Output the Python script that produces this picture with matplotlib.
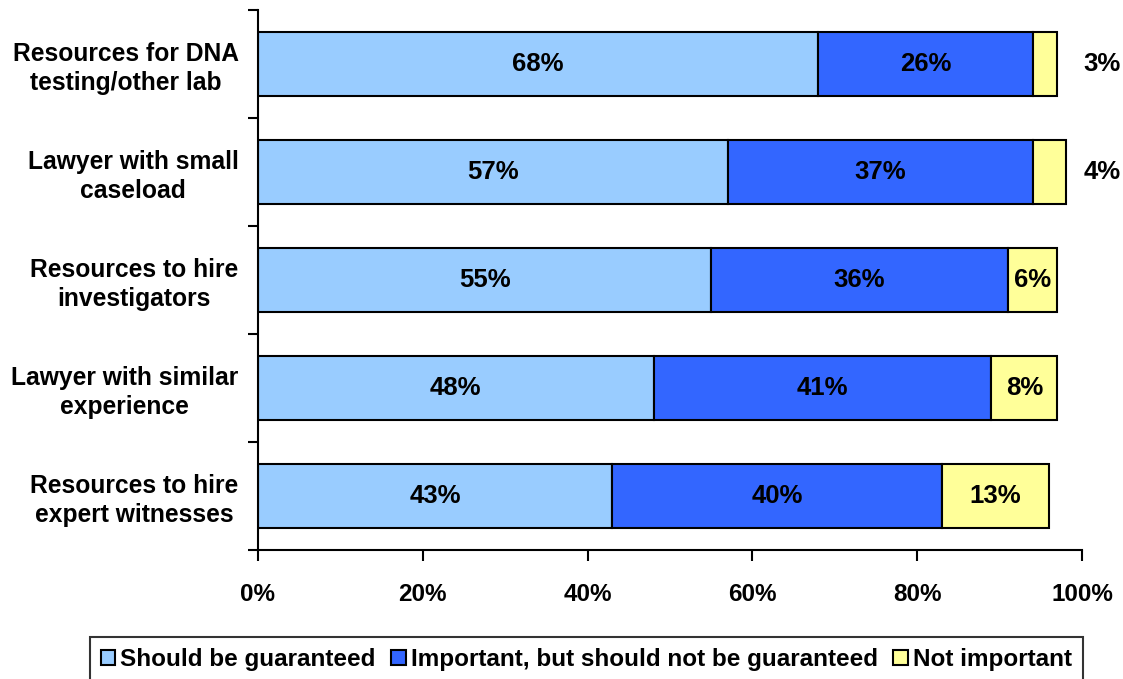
import numpy as np
import matplotlib.pyplot as plt
from matplotlib.ticker import FixedLocator, PercentFormatter

plt.rcParams['font.family'] = ['Liberation Sans', 'DejaVu Sans']
plt.rcParams['font.weight'] = 'bold'

categories = ['Resources for DNA\ntesting/other lab',
              'Lawyer with small\ncaseload',
              'Resources to hire\ninvestigators',
              'Lawyer with similar\nexperience',
              'Resources to hire\nexpert witnesses']
guaranteed = [68, 57, 55, 48, 43]
important = [26, 37, 36, 41, 40]
not_important = [3, 4, 6, 8, 13]
series_names = ['Should be guaranteed',
                'Important, but should not be guaranteed',
                'Not important']
colors = ['#99CCFF', '#3366FF', '#FFFF99']

fig = plt.figure(figsize=(11.23, 6.79), dpi=100)
ax = fig.add_axes([0.2297, 0.19, 0.7338, 0.7953])

y = np.arange(len(categories))
series = [guaranteed, important, not_important]
left = np.zeros(len(categories))
for vals, name, col in zip(series, series_names, colors):
    vals = np.array(vals, dtype=float)
    bars = ax.barh(y, vals, left=left, height=0.59, color=col,
                   edgecolor='black', linewidth=1.5, label=name)
    for b, v, l in zip(bars, vals, left):
        yc = b.get_y() + b.get_height() / 2
        if v < 5:
            # small segments get their label outside the bar
            ax.text(102.4, yc, '%d%%' % v, ha='center', va='center',
                    fontsize=18.5, fontweight='bold', clip_on=False)
        else:
            ax.text(l + v / 2, yc, '%d%%' % v, ha='center', va='center',
                    fontsize=18.5, fontweight='bold')
    left += vals

ax.set_xlim(0, 100)
ax.set_ylim(len(categories) - 0.5, -0.5)
ax.set_yticks(y)
ax.set_yticklabels(categories, fontsize=17.7, fontweight='bold',
                   multialignment='center', linespacing=1.25)
ax.yaxis.set_minor_locator(FixedLocator(np.arange(-0.5, len(categories), 1)))
ax.tick_params(axis='y', which='major', length=0, pad=14)
ax.tick_params(axis='y', which='minor', length=7, width=1.5, direction='out')
ax.set_xticks(np.arange(0, 101, 20))
ax.xaxis.set_major_formatter(PercentFormatter(decimals=0))
ax.tick_params(axis='x', length=8, width=1.5, direction='out', pad=16,
               labelsize=17.5)
for lab in ax.get_xticklabels():
    lab.set_fontweight('bold')

ax.spines['top'].set_visible(False)
ax.spines['right'].set_visible(False)
ax.spines['left'].set_linewidth(1.5)
ax.spines['bottom'].set_linewidth(1.5)

leg = fig.legend(loc='center', bbox_to_anchor=(0.522, 0.029), ncol=3,
                 frameon=True, fancybox=False, edgecolor='black',
                 fontsize=17.5, handlelength=0.6, handleheight=0.6,
                 handletextpad=0.2, columnspacing=0.65, borderpad=0.45)
leg.get_frame().set_linewidth(1.5)
for t in leg.get_texts():
    t.set_fontweight('bold')

fig.savefig('out.png', dpi=100)
